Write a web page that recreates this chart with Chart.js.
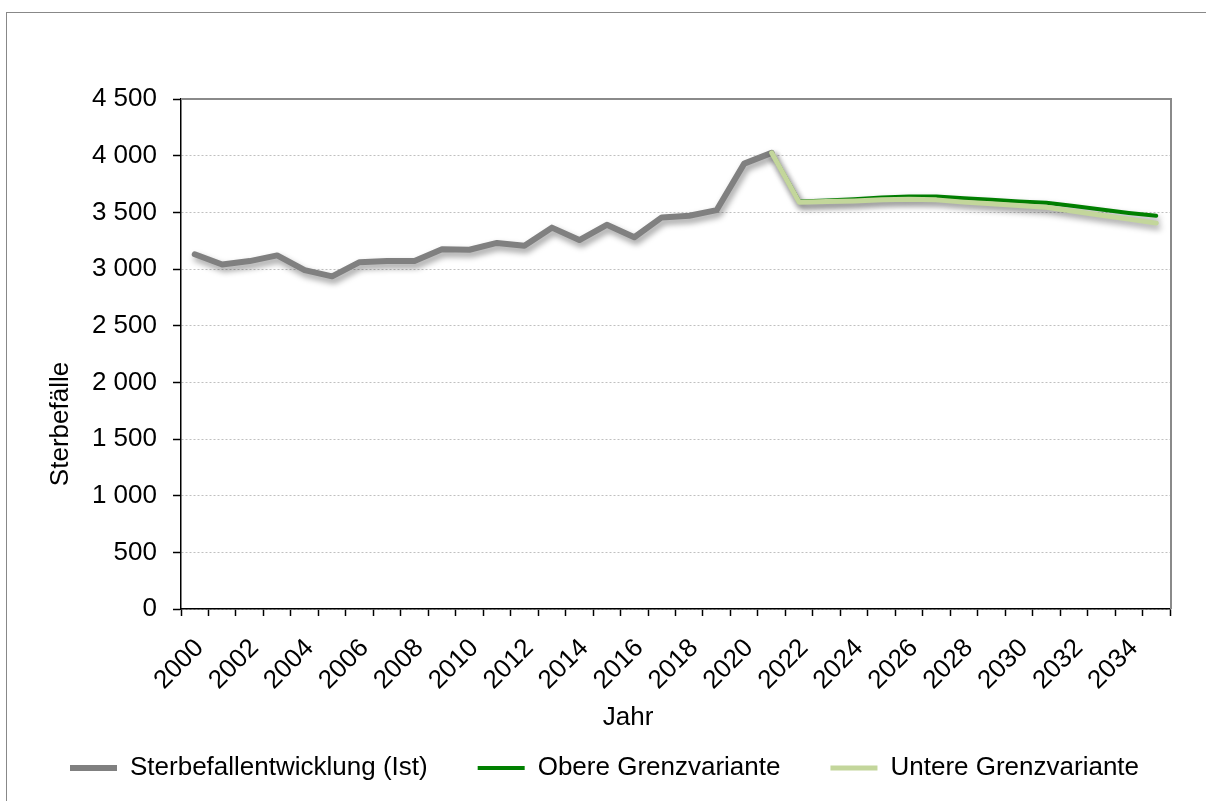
<!DOCTYPE html>
<html lang="de">
<head>
<meta charset="utf-8">
<title>Sterbefälle</title>
<script src="https://cdn.jsdelivr.net/npm/chart.js@4"></script>
<style>
  html, body { margin: 0; padding: 0; background: #fff; overflow: hidden; }
  #frame {
    position: absolute; left: 6px; top: 12px;
    width: 1229px; height: 800px;
    border: 1px solid #888;
  }
  canvas { display: block; }
</style>
</head>
<body>
<div id="frame"><canvas id="chart" width="1229" height="788"></canvas></div>
<script>
const years = ['2000', '2001', '2002', '2003', '2004', '2005', '2006', '2007', '2008',
  '2009', '2010', '2011', '2012', '2013', '2014', '2015', '2016', '2017', '2018',
  '2019', '2020', '2021', '2022', '2023', '2024', '2025', '2026', '2027', '2028',
  '2029', '2030', '2031', '2032', '2033', '2034', '2035'];

// observed deaths (Ist), 2000-2021
const ist = [3130, 3040, 3070, 3120, 2990, 2935, 3060, 3070, 3070, 3175, 3170,
  3230, 3205, 3365, 3255, 3390, 3280, 3455, 3470, 3520, 3930, 4025,
  null, null, null, null, null, null, null, null, null, null, null, null, null, null];

// projections start at 2021
const obere = [null, null, null, null, null, null, null, null, null, null, null,
  null, null, null, null, null, null, null, null, null, null,
  4025, 3595, 3605, 3615, 3630, 3640, 3640, 3625, 3610, 3595, 3585, 3555, 3525, 3495, 3470];

const untere = [null, null, null, null, null, null, null, null, null, null, null,
  null, null, null, null, null, null, null, null, null, null,
  4025, 3590, 3595, 3600, 3610, 3615, 3610, 3590, 3575, 3560, 3545, 3510, 3475, 3440, 3405];

const yTicks = [0, 500, 1000, 1500, 2000, 2500, 3000, 3500, 4000, 4500];

const FONT = '"Liberation Sans", Arial, sans-serif';
const FS = 26;

// soft drop shadow under each line, like the Excel original
const lineShadow = {
  id: 'lineShadow',
  beforeDatasetDraw(chart) {
    const ctx = chart.ctx;
    ctx.save();
    ctx.shadowColor = 'rgba(0, 0, 0, 0.4)';
    ctx.shadowBlur = 6;
    ctx.shadowOffsetX = 2;
    ctx.shadowOffsetY = 4;
  },
  afterDatasetDraw(chart) {
    chart.ctx.restore();
  },
};

// grey frame on top and right of the plot area, plus the y axis title
const plotFrame = {
  id: 'plotFrame',
  afterDraw(chart) {
    const { ctx, chartArea: a } = chart;
    ctx.save();
    ctx.strokeStyle = '#8a8a8a';
    ctx.lineWidth = 2;
    ctx.beginPath();
    ctx.moveTo(a.left, a.top);
    ctx.lineTo(a.right + 1, a.top);
    ctx.lineTo(a.right + 1, a.bottom);
    ctx.stroke();

    ctx.translate(54, 411);
    ctx.rotate(-Math.PI / 2);
    ctx.fillStyle = '#000';
    ctx.font = FS + 'px ' + FONT;
    ctx.textAlign = 'center';
    ctx.textBaseline = 'middle';
    ctx.fillText('Sterbefälle', 0, 0);
    ctx.restore();
  },
};

const fmt = (v) => String(v).replace(/\B(?=(\d{3})+(?!\d))/g, ' ');

new Chart(document.getElementById('chart'), {
  type: 'line',
  data: {
    labels: years,
    datasets: [
      {
        label: 'Sterbefallentwicklung (Ist)',
        data: ist,
        order: 2,
        borderColor: '#808080',
        backgroundColor: '#808080',
        borderWidth: 6,
        borderJoinStyle: 'round',
        borderCapStyle: 'round',
        pointRadius: 0,
      },
      {
        label: 'Obere Grenzvariante',
        data: obere,
        order: 1,
        borderColor: '#008000',
        backgroundColor: '#008000',
        borderWidth: 4,
        borderJoinStyle: 'round',
        borderCapStyle: 'round',
        pointRadius: 0,
      },
      {
        label: 'Untere Grenzvariante',
        data: untere,
        order: 0,
        borderColor: '#c3d69b',
        backgroundColor: '#c3d69b',
        borderWidth: 5,
        borderJoinStyle: 'round',
        borderCapStyle: 'round',
        pointRadius: 0,
      },
    ],
  },
  options: {
    responsive: false,
    animation: false,
    devicePixelRatio: 1,
    layout: { padding: { left: 13, right: 0, top: 86, bottom: 10 } },
    scales: {
      x: {
        offset: true,
        grid: {
          offset: true,
          drawOnChartArea: false,
          drawTicks: true,
          tickLength: 7,
          tickColor: '#000',
          tickWidth: 1.5,
        },
        border: { color: '#000', width: 1.5 },
        ticks: {
          autoSkip: false,
          maxRotation: 45,
          minRotation: 45,
          color: '#000',
          font: { family: FONT, size: FS },
          padding: 17,
          labelOffset: 5,
          callback: (v, i) => (i % 2 === 0 ? years[i] : ''),
        },
        afterFit: (scale) => { scale.height = 93.4; },
      },
      y: {
        min: 0,
        max: 4500,
        afterBuildTicks: (scale) => { scale.ticks = yTicks.map((v) => ({ value: v })); },
        grid: {
          color: '#c0c0c0',
          borderDash: [2, 2],
          tickLength: 8,
          tickColor: '#000',
          tickWidth: 1.5,
          tickBorderDash: [],
        },
        border: { color: '#000', width: 1.5, dash: [2, 2] },
        ticks: {
          color: '#000',
          font: { family: FONT, size: FS },
          padding: 16,
          callback: (v) => fmt(v),
        },
        afterFit: (scale) => { scale.width = 161; },
      },
      yRight: {
        position: 'right',
        display: true,
        grid: { display: false },
        border: { display: false },
        ticks: { display: false },
        afterFit: (scale) => { scale.width = 66; },
      },
    },
    plugins: {
      title: {
        display: true,
        text: 'Jahr',
        position: 'bottom',
        weight: 500,
        color: '#000',
        font: { family: FONT, size: FS, weight: 'normal' },
        padding: { top: 0, bottom: -28.6 },
      },
      legend: {
        position: 'bottom',
        align: 'start',
        labels: {
          color: '#000',
          font: { family: FONT, size: FS },
          usePointStyle: true,
          pointStyle: 'line',
          pointStyleWidth: 47,
          padding: 50,
          sort: (a, b) => a.datasetIndex - b.datasetIndex,
        },
      },
      tooltip: { enabled: false },
    },
  },
  plugins: [lineShadow, plotFrame],
});
</script>
</body>
</html>
